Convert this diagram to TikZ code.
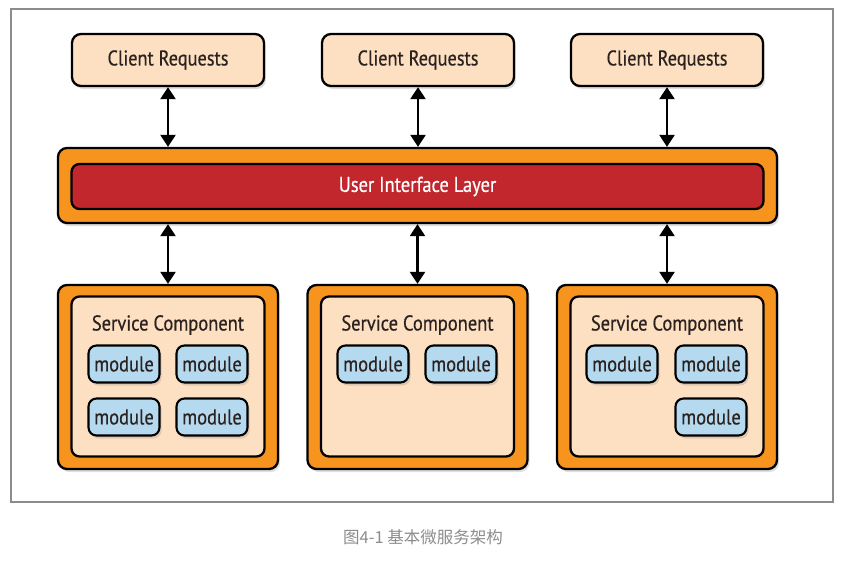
\documentclass[tikz,border=0pt]{standalone}
\usepackage{fontspec}
\setmainfont{PT Sans}[FakeStretch=0.86,FakeBold=0.5]
\newfontfamily\cjk{Noto Sans CJK SC}
\usetikzlibrary{arrows.meta,shadows,positioning}
\definecolor{peach}{HTML}{FDE0C2}
\definecolor{tangerine}{HTML}{F7941D}
\definecolor{uired}{HTML}{C1272D}
\definecolor{modblue}{HTML}{B5DAF0}
\definecolor{inkbrown}{HTML}{2B2220}

\begin{document}
\begin{tikzpicture}[x=1pt,y=-1pt]

\tikzset{box/.style={draw=black,line width=2.3pt,rounded corners=9pt,inner sep=0pt},
shade/.style={drop shadow={opacity=0.25,shadow xshift=2pt,shadow yshift=-3pt}},
clientbox/.style={box,shade,fill=peach,minimum width=192pt,minimum height=52pt,font=\fontsize{21.3}{24}\selectfont,text=inkbrown},
orangebox/.style={box,shade,fill=tangerine},
modbox/.style={box,line width=2.1pt,rounded corners=8pt,shade,fill=modblue,minimum width=71pt,minimum height=37pt,font=\fontsize{21.5}{24}\selectfont,text=inkbrown},
link/.style={line width=2.4pt,{Triangle[width=15pt,length=12pt]}-{Triangle[width=15pt,length=12pt]}}}

\useasboundingbox (0,0) rectangle (843,560);

% Frame
\draw[line width=1.4pt,color=black!45] (11,9) rectangle (833,502);

% Client requests
\foreach \x/\n in {168/1,418/2,667/3} \node[clientbox] (client\n) at (\x,60) {Client Requests};

% User interface layer
\node[orangebox,minimum width=719pt,minimum height=75pt] (uiframe) at (417.5,185.5) {};
\node[box,fill=uired,rounded corners=8pt,minimum width=692pt,minimum height=45pt,text=white,font=\fontsize{21.5}{24}\selectfont] (uilayer) at (417.5,186.5) {User Interface Layer};

% Service components
\foreach \x/\n in {168/1,417.5/2,667/3} {
\node[orangebox,minimum width=220pt,minimum height=184pt] (svc\n) at (\x,377) {};
\node[box,fill=peach,rounded corners=8pt,minimum width=193pt,minimum height=160pt] (svcin\n) at (\x,376.5) {};
\node[font=\fontsize{21.5}{24}\selectfont,text=inkbrown] (svclabel\n) at (\x,325) {Service Component};
}

% modules
\node[modbox] (m11) at (124,364) {module}; \node[modbox] (m12) at (212,364) {module};
\node[modbox] (m13) at (124,417) {module}; \node[modbox] (m14) at (212,417) {module};
\node[modbox] (m21) at (373,364) {module}; \node[modbox] (m22) at (461,364) {module};
\node[modbox] (m31) at (622,364) {module}; \node[modbox] (m32) at (711,364) {module};
\node[modbox] (m33) at (711,417) {module};

% Arrows
\foreach \n in {1,2,3} {
\draw[link] (client\n.south) -- (client\n.south |- uiframe.north);
\draw[link] (svc\n.north |- uiframe.south) -- (svc\n.north);
}

% Caption
\node[text=black!45,font=\cjk\fontsize{16.5}{19}\selectfont] (caption) at (423,537) {图4-1 基本微服务架构};

\end{tikzpicture}
\end{document}
